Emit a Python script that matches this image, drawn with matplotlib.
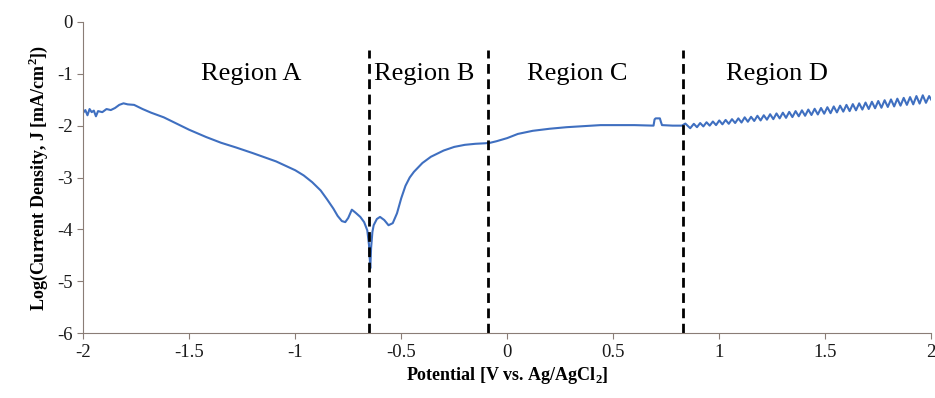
import numpy as np
import matplotlib
matplotlib.use("Agg")
import matplotlib.pyplot as plt

plt.rcParams['font.family'] = ['Liberation Serif', 'DejaVu Serif']
plt.rcParams['mathtext.fontset'] = 'custom'
plt.rcParams['mathtext.rm'] = 'Liberation Serif'
plt.rcParams['mathtext.bf'] = 'Liberation Serif:bold'

# polarization curve (potential V, log J)
pot_a = [-2.00, -1.99, -1.98, -1.97, -1.96, -1.95, -1.94, -1.93, -1.91, -1.89,
         -1.87, -1.85, -1.83, -1.81, -1.79, -1.76, -1.72, -1.68, -1.62, -1.56,
         -1.50, -1.42, -1.35, -1.28, -1.20, -1.09, -1.00, -0.96, -0.92, -0.88,
         -0.85, -0.82, -0.80, -0.78, -0.764, -0.75, -0.733, -0.715, -0.693,
         -0.675, -0.66, -0.652, -0.646]
logj_a = [-1.75, -1.70, -1.80, -1.68, -1.74, -1.71, -1.82, -1.72, -1.74, -1.68,
          -1.70, -1.66, -1.60, -1.57, -1.59, -1.60, -1.68, -1.75, -1.84, -1.96,
          -2.08, -2.22, -2.33, -2.42, -2.53, -2.69, -2.86, -2.96, -3.09, -3.25,
          -3.42, -3.60, -3.74, -3.84, -3.86, -3.78, -3.62, -3.68, -3.76,
          -3.86, -4.02, -4.30, -4.75]
pot_b = [-0.642, -0.636, -0.63, -0.615, -0.60, -0.58, -0.56, -0.54, -0.52,
         -0.50, -0.48, -0.46, -0.44, -0.40, -0.36, -0.30, -0.25, -0.20, -0.15,
         -0.104, -0.08, -0.05]
logj_b = [-4.35, -4.05, -3.92, -3.80, -3.76, -3.82, -3.92, -3.88, -3.69,
          -3.40, -3.16, -3.00, -2.89, -2.72, -2.60, -2.48, -2.41, -2.37, -2.35,
          -2.34, -2.33, -2.30]
pot_c = [0.00, 0.05, 0.12, 0.20, 0.28, 0.36, 0.44, 0.52, 0.60, 0.69, 0.695,
         0.70, 0.72, 0.725, 0.73, 0.78, 0.824, 0.84, 0.863]
logj_c = [-2.24, -2.16, -2.10, -2.06, -2.03, -2.01, -1.99, -1.99, -1.99, -2.00,
          -1.88, -1.86, -1.86, -1.93, -1.99, -2.00, -2.00, -1.96, -2.05]
pot_d = [0.880, 0.895, 0.910, 0.925, 0.940, 0.955, 0.970, 0.985, 1.000, 1.015,
         1.030, 1.045, 1.060, 1.075, 1.090, 1.105, 1.120, 1.135, 1.150, 1.165,
         1.180, 1.195, 1.210, 1.225, 1.240, 1.255, 1.270, 1.285, 1.300, 1.315,
         1.330, 1.345, 1.360, 1.375, 1.390, 1.405, 1.420, 1.435, 1.450, 1.465,
         1.480, 1.495, 1.510, 1.525, 1.540, 1.555, 1.570, 1.585, 1.600, 1.615,
         1.630, 1.645, 1.660, 1.675, 1.690, 1.705, 1.720, 1.735, 1.750, 1.765,
         1.780, 1.795, 1.810, 1.825, 1.840, 1.855, 1.870, 1.885, 1.900, 1.915,
         1.930, 1.945, 1.960, 1.975, 1.990, 2.000]
logj_d = [-1.965, -2.03, -1.95, -2.015, -1.935, -2.00, -1.92, -1.99, -1.90, -1.975,
          -1.89, -1.965, -1.875, -1.95, -1.86, -1.94, -1.84, -1.925, -1.83, -1.91,
          -1.81, -1.90, -1.80, -1.885, -1.78, -1.875, -1.765, -1.86, -1.75, -1.85,
          -1.735, -1.835, -1.72, -1.82, -1.705, -1.81, -1.69, -1.795, -1.675, -1.785,
          -1.66, -1.77, -1.645, -1.76, -1.63, -1.745, -1.615, -1.73, -1.60, -1.72,
          -1.585, -1.705, -1.57, -1.69, -1.555, -1.68, -1.54, -1.665, -1.525, -1.655,
          -1.51, -1.64, -1.495, -1.63, -1.48, -1.615, -1.465, -1.60, -1.45, -1.59,
          -1.43, -1.575, -1.415, -1.56, -1.43, -1.50]

potential = pot_a + pot_b + pot_c + pot_d
log_j = logj_a + logj_b + logj_c + logj_d

boundaries = [-0.65, -0.09, 0.83]
region_names = ["Region A", "Region B", "Region C", "Region D"]
region_x = [-1.21, -0.39, 0.33, 1.27]

fig = plt.figure(figsize=(9.35, 3.98), dpi=100)
ax = fig.add_axes([0.089, 0.163, 0.907, 0.782])

ax.plot(potential, log_j, color="#3f6fc0", lw=1.5)
for b in boundaries:
    ax.plot([b, b], [-6, -0.55], color="black", lw=2, ls=(0, (3.5, 2)))
for name, rx in zip(region_names, region_x):
    ax.text(rx, -1.0, name, ha="center", va="center", fontsize=19)

ax.set_xlim(-2, 2)
ax.set_ylim(-6, 0)
ax.set_xticks([-2, -1.5, -1, -0.5, 0, 0.5, 1, 1.5, 2])
ax.set_xticklabels(["-2", "-1.5", "-1", "-0.5", "0", "0.5", "1", "1.5", "2"])
ax.set_yticks(range(-6, 1))
ax.set_yticklabels([str(v) for v in range(-6, 1)])
spine_col = "#8a7d76"
for s in ["top", "right"]:
    ax.spines[s].set_visible(False)
for s in ["left", "bottom"]:
    ax.spines[s].set_color(spine_col)
ax.tick_params(colors=spine_col, labelcolor="#1a1a1a", labelsize=13.5, length=4)

ax.set_xlabel("Potential [V vs. Ag/AgCl$_\\mathbf{2}$]", fontsize=13,
              fontweight="bold", labelpad=3)
ax.set_ylabel("Log(Current Density, J [mA/cm$^\\mathbf{2}$])", fontsize=13,
              fontweight="bold", labelpad=5)

fig.savefig("out.png", dpi=100)
